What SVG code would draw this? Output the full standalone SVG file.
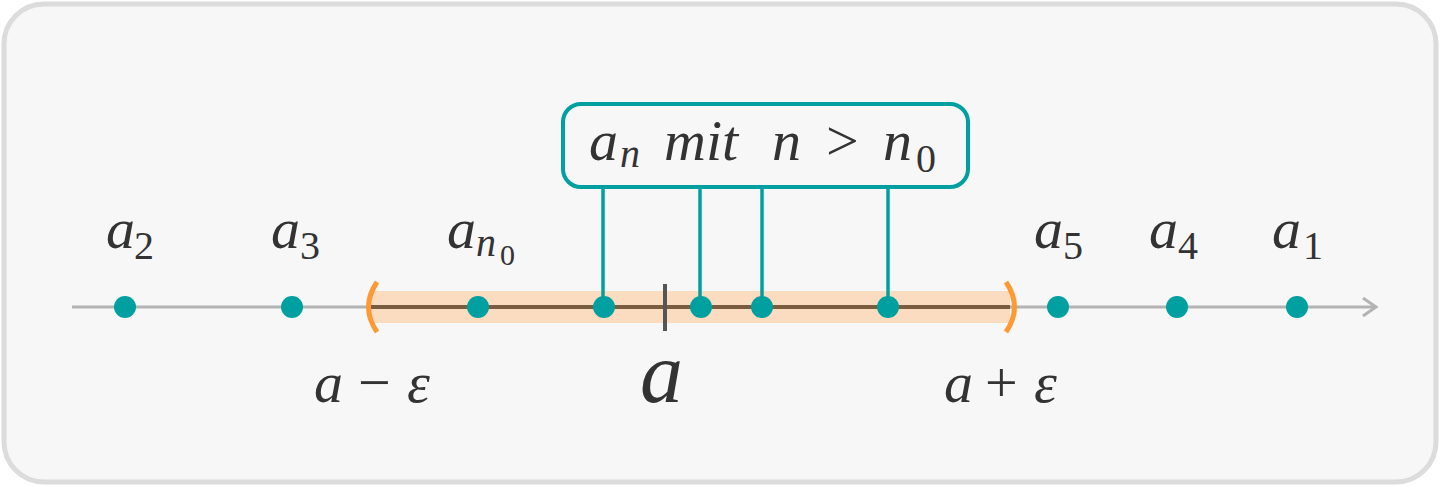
<svg xmlns="http://www.w3.org/2000/svg" width="1440" height="486" viewBox="0 0 1440 486">
<defs>
<style>
text{font-family:"Liberation Serif","DejaVu Serif",serif;fill:#333}
.m{font-style:italic;font-size:58px}
.s{font-style:normal;font-size:40px}
.si{font-style:italic;font-size:40px}
.s2{font-style:normal;font-size:30px}
.up{font-style:normal}
.big{font-size:86px}
.dot{fill:#00a0a0}
.conn{stroke:#00a0a0;stroke-width:3.5;fill:none}
</style>
<marker id="arr" viewBox="0 0 20 20" refX="16" refY="10" markerWidth="20" markerHeight="20" markerUnits="userSpaceOnUse" orient="auto">
<path d="M3,1 L16,10 L3,19" fill="none" stroke="#b3b3b3" stroke-width="3"/>
</marker>
</defs>
<rect x="4" y="4" width="1432" height="478" rx="40" fill="#f7f7f7" stroke="#dcdcdc" stroke-width="5"/>
<g id="axis">
<line x1="72" y1="307" x2="1376" y2="307" stroke="#b3b3b3" stroke-width="3" marker-end="url(#arr)"/>
</g>
<g id="interval">
<rect x="370" y="291" width="640" height="32" fill="#fbdcc0"/>
<line x1="370" y1="307" x2="1010" y2="307" stroke="#7a5c3e" stroke-width="4"/>
<path d="M377,282 Q360,307 377,332" fill="none" stroke="#ff9933" stroke-width="5"/>
<path d="M1006,282 Q1023,307 1006,332" fill="none" stroke="#ff9933" stroke-width="5"/>
<line x1="665" y1="284" x2="665" y2="331" stroke="#555" stroke-width="4"/>
</g>
<g id="connectors">
<line class="conn" x1="603" y1="187" x2="603" y2="307"/>
<line class="conn" x1="700" y1="187" x2="700" y2="307"/>
<line class="conn" x1="762" y1="187" x2="762" y2="307"/>
<line class="conn" x1="888" y1="187" x2="888" y2="307"/>
</g>
<g id="label-box">
<rect x="563" y="104" width="405" height="83" rx="18" fill="#f7f7f7" stroke="#00a0a0" stroke-width="4"/>
<text y="160" class="m"><tspan x="589">a</tspan><tspan class="si" x="620" dy="7">n</tspan><tspan x="664" dy="-7">mit</tspan><tspan x="772">n</tspan><tspan class="up" x="826">&gt;</tspan><tspan x="883">n</tspan><tspan class="s" x="916" dy="12">0</tspan></text>
</g>
<g id="dots">
<circle class="dot" cx="125" cy="307" r="11"/>
<circle class="dot" cx="292" cy="307" r="11"/>
<circle class="dot" cx="478" cy="307" r="11"/>
<circle class="dot" cx="604" cy="307" r="11"/>
<circle class="dot" cx="701" cy="307" r="11"/>
<circle class="dot" cx="762" cy="307" r="11"/>
<circle class="dot" cx="888" cy="307" r="11"/>
<circle class="dot" cx="1058" cy="307" r="11"/>
<circle class="dot" cx="1177" cy="307" r="11"/>
<circle class="dot" cx="1297" cy="307" r="11"/>
</g>
<g id="labels">
<text y="248" class="m"><tspan x="106">a</tspan><tspan class="s" x="134" dy="11">2</tspan></text>
<text y="248" class="m"><tspan x="271">a</tspan><tspan class="s" x="300" dy="11">3</tspan></text>
<text y="248" class="m"><tspan x="447">a</tspan><tspan class="si" x="476" dy="8">n</tspan><tspan class="s2" x="500" dy="9">0</tspan></text>
<text y="248" class="m"><tspan x="1034">a</tspan><tspan class="s" x="1063" dy="11">5</tspan></text>
<text y="248" class="m"><tspan x="1149">a</tspan><tspan class="s" x="1178" dy="11">4</tspan></text>
<text y="248" class="m"><tspan x="1272">a</tspan><tspan class="s" x="1303" dy="11">1</tspan></text>
<text y="402" class="m"><tspan x="314">a</tspan><tspan class="up" x="358">−</tspan><tspan x="407">ε</tspan></text>
<text y="402" class="m big"><tspan x="640">a</tspan></text>
<text y="402" class="m"><tspan x="944">a</tspan><tspan class="up" x="985">+</tspan><tspan x="1034">ε</tspan></text>
</g>
</svg>
